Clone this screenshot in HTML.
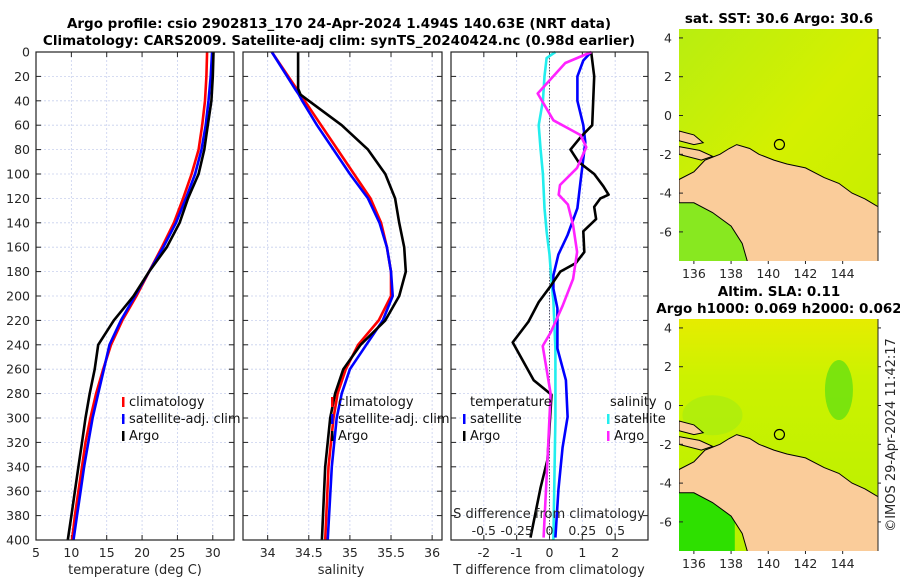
<!DOCTYPE html>
<html><head><meta charset="utf-8"><style>
html,body{margin:0;padding:0;background:#fff}
svg{display:block;font-family:"DejaVu Sans","Liberation Sans",sans-serif}
</style></head><body>
<svg id="c" width="900" height="580" viewBox="0 0 900 580"></svg>
<script>
const depths=[0,20,40,60,80,100,120,140,160,180,200,220,240,260,280,300,320,340,360,380,400];
const tempArgo=[30.1,30.0,29.8,29.3,28.8,28.0,26.5,25.3,23.5,21.0,18.8,16.0,13.8,13.3,12.6,12.0,11.5,11.0,10.5,10.0,9.5];
const tempClim=[29.2,29.1,28.9,28.5,28.0,27.0,25.8,24.5,22.8,21.0,19.2,17.2,15.6,14.5,13.5,12.7,12.0,11.5,11.0,10.5,10.1];
const tempSat=[29.9,29.7,29.4,29.0,28.4,27.5,26.2,24.8,23.0,21.0,19.0,17.0,15.4,14.6,13.8,13.0,12.4,11.8,11.3,10.8,10.3];
const salDepths=[0,30,35,40,60,80,100,120,140,160,180,200,220,240,260,280,300,340,400];
const salArgo=[34.37,34.37,34.4,34.5,34.9,35.22,35.43,35.55,35.6,35.66,35.68,35.6,35.43,35.13,34.92,34.82,34.76,34.7,34.66];
const salClim=[34.05,34.35,34.4,34.45,34.65,34.85,35.05,35.25,35.38,35.45,35.5,35.5,35.35,35.1,34.95,34.85,34.8,34.74,34.7];
const salSat=[34.05,34.33,34.38,34.42,34.6,34.8,35.0,35.22,35.36,35.45,35.5,35.52,35.4,35.2,35.0,34.9,34.84,34.78,34.73];
const dTArgoDepth=[0,20,40,60,70,80,90,100,110,117,120,127,137,147,164,173,180,192,205,221,238,269,281,334,357,398];
const dTArgo=[1.27,1.36,1.33,1.3,0.94,0.64,0.88,1.36,1.64,1.8,1.55,1.36,1.42,1.03,1.06,0.8,0.33,0.03,-0.33,-0.64,-1.12,-0.48,0.06,-0.06,-0.27,-0.58];
const dTSatDepth=[0,7,20,40,60,74,107,128,150,166,183,194,210,243,269,299,324,359,398];
const dTSat=[1.27,1.03,0.85,0.85,1.03,1.09,0.94,0.85,0.55,0.27,0.12,0.12,0.24,0.24,0.5,0.55,0.4,0.27,0.18];
const dSSatDepth=[0,5,20,40,60,80,100,128,147,166,188,204,243,300,400];
const dSSat=[0.045,-0.022,-0.038,-0.05,-0.082,-0.068,-0.05,-0.038,-0.022,0,0.015,0.03,0.045,0.045,0.03];
const dSArgoDepth=[0,9,34,56,68,78,95,109,117,125,142,164,186,208,230,241,269,280,334,398];
const dSArgo=[0.32,0.12,-0.09,0.03,0.235,0.28,0.21,0.08,0.07,0.14,0.18,0.21,0.18,0.1,0.008,-0.052,-0.008,0.008,-0.015,-0.045];
const depthTicks=[0,20,40,60,80,100,120,140,160,180,200,220,240,260,280,300,320,340,360,380,400];
const tTicks=[5,10,15,20,25,30];
const sTicks=[34,34.5,35,35.5,36];
const dTTicks=[-2,-1,0,1,2];
const dSTicks=[-0.5,-0.25,0,0.25,0.5];
const dSTickLabels=["-0.5","-0.25","0","0.25","0.5"];
const lonTicks=[136,138,140,142,144];
const latTicks=[4,2,0,-2,-4,-6];
const landMain=[[135.2,-3.3],[136,-2.9],[136.6,-2.3],[137.4,-2.0],[137.9,-1.7],[138.3,-1.5],[139,-1.7],[139.5,-2.0],[140.3,-2.3],[141,-2.5],[142,-2.7],[143,-3.2],[143.8,-3.5],[144.5,-4.0],[145.2,-4.3],[145.9,-4.7],[145.9,-7.6],[138.9,-7.6],[138.6,-6.6],[138.0,-5.7],[137,-5.0],[136,-4.5],[135.2,-4.5]];
const islandA=[[135.2,-0.8],[136,-1.0],[136.5,-1.4],[136,-1.5],[135.2,-1.3]];
const islandB=[[135.2,-1.6],[136.3,-1.8],[137,-2.1],[136.4,-2.3],[135.2,-2.0]];
const floatPos=[140.6,-1.494];

const S=document.getElementById('c');const NS='http://www.w3.org/2000/svg';
function mk(t,a,p){const e=document.createElementNS(NS,t);for(const k in a)e.setAttribute(k,a[k]);(p||S).appendChild(e);return e;}
function txt(x,y,s,a,p){const e=mk('text',Object.assign({x:x,y:y,'font-size':12.5,fill:'#262626'},a||{}),p);e.textContent=s;return e;}
function lin(d0,d1,r0,r1){return v=>r0+(v-d0)*(r1-r0)/(d1-d0);}
const Y=lin(0,400,52,540);
function panel(name,x0,x1,xd0,xd1){
  const X=lin(xd0,xd1,x0,x1);
  const g=mk('g',{});
  return {X,g,x0,x1};
}
function grid(P,xt){
  depthTicks.forEach(d=>{mk('line',{x1:P.x0,x2:P.x1,y1:Y(d),y2:Y(d),stroke:'#c8d0ee','stroke-width':0.8,'stroke-dasharray':'2,2'},P.g);
    mk('line',{x1:P.x0,x2:P.x0+5,y1:Y(d),y2:Y(d),stroke:'#222'},P.g);mk('line',{x1:P.x1-5,x2:P.x1,y1:Y(d),y2:Y(d),stroke:'#222'},P.g);});
  xt.forEach(v=>{mk('line',{x1:P.X(v),x2:P.X(v),y1:52,y2:540,stroke:'#c8d0ee','stroke-width':0.8,'stroke-dasharray':'2,2'},P.g);
    mk('line',{x1:P.X(v),x2:P.X(v),y1:540,y2:535,stroke:'#222'},P.g);mk('line',{x1:P.X(v),x2:P.X(v),y1:52,y2:57,stroke:'#222'},P.g);});
}
function frame(P){mk('rect',{x:P.x0,y:52,width:P.x1-P.x0,height:488,fill:'none',stroke:'#222','stroke-width':1.2},P.g);}
function line(P,xs,ds,col,name,w){const pts=xs.map((v,i)=>P.X(v).toFixed(1)+','+Y(ds[i]).toFixed(1)).join(' ');
  const e=mk('polyline',{points:pts,fill:'none',stroke:col,'stroke-width':w||2.6,'stroke-linejoin':'round'},P.g);
  }
function legItem(P,x,y,col,label,name){const g=mk('g',{},P.g);
  mk('rect',{x:x,y:y-9,width:2.5,height:10,fill:col},g);txt(x+7,y,label,{'font-size':13,fill:'#111'},g);}

txt(339,28,'Argo profile: csio 2902813_170 24-Apr-2024 1.494S 140.63E (NRT data)',{'text-anchor':'middle','font-weight':'bold','font-size':13.5,fill:'#000'});
txt(339,45,'Climatology: CARS2009. Satellite-adj clim: synTS_20240424.nc (0.98d earlier)',{'text-anchor':'middle','font-weight':'bold','font-size':13.5,fill:'#000'});

const P1=panel('temperature-panel',36,234,5,33);grid(P1,tTicks);
depthTicks.forEach(d=>txt(30,Y(d)+4.5,String(d),{'text-anchor':'end'},P1.g));
tTicks.forEach(v=>txt(P1.X(v),557,String(v),{'text-anchor':'middle'},P1.g));
txt(135,574,'temperature (deg C)',{'text-anchor':'middle','font-size':13},P1.g);
line(P1,tempClim,depths,'#ff0000','temp-climatology-line');line(P1,tempSat,depths,'#0000ff','temp-satellite-line');line(P1,tempArgo,depths,'#000','temp-argo-line');
frame(P1);
legItem(P1,122,406,'#ff0000','climatology','legend-climatology');legItem(P1,122,423,'#0000ff','satellite-adj. clim','legend-satellite');legItem(P1,122,440,'#000','Argo','legend-argo');

const P2=panel('salinity-panel',243,442,33.7,36.12);grid(P2,sTicks);
sTicks.forEach(v=>txt(P2.X(v),557,String(v),{'text-anchor':'middle'},P2.g));
txt(341,574,'salinity',{'text-anchor':'middle','font-size':13},P2.g);
line(P2,salClim,salDepths,'#ff0000','sal-climatology-line');line(P2,salSat,salDepths,'#0000ff','sal-satellite-line');line(P2,salArgo,salDepths,'#000','sal-argo-line');
frame(P2);
legItem(P2,331,406,'#ff0000','climatology','legend-climatology-2');legItem(P2,331,423,'#0000ff','satellite-adj. clim','legend-satellite-2');legItem(P2,331,440,'#000','Argo','legend-argo-2');

const P3=panel('difference-panel',451,648,-3,3);grid(P3,dTTicks);
mk('line',{x1:P3.X(0),x2:P3.X(0),y1:52,y2:540,stroke:'#556','stroke-width':1,'stroke-dasharray':'1.5,1.5'},P3.g);
dTTicks.forEach(v=>txt(P3.X(v),557,String(v),{'text-anchor':'middle'},P3.g));
txt(549,574,'T difference from climatology',{'text-anchor':'middle','font-size':13},P3.g);
const dSArgoT=dSArgo.map(v=>v*4),dSSatT=dSSat.map(v=>v*4);
line(P3,dSSatT,dSSatDepth,'#22eeee','s-diff-satellite-line');line(P3,dTSat,dTSatDepth,'#0000ff','t-diff-satellite-line');
line(P3,dTArgo,dTArgoDepth,'#000','t-diff-argo-line');line(P3,dSArgoT,dSArgoDepth,'#ff22ff','s-diff-argo-line');
frame(P3);
txt(549,518,'S difference from climatology',{'text-anchor':'middle','font-size':13},P3.g);
dSTicks.forEach((v,i)=>txt(P3.X(v*4),535,dSTickLabels[i],{'text-anchor':'middle'},P3.g));
txt(470,406,'temperature',{'font-size':13,fill:'#111'},P3.g);
legItem(P3,463,423,'#0000ff','satellite','legend-t-satellite');legItem(P3,463,440,'#000','Argo','legend-t-argo');
txt(610,406,'salinity',{'font-size':13,fill:'#111'},P3.g);
legItem(P3,607,423,'#22eeee','satellite','legend-s-satellite');legItem(P3,607,440,'#ff22ff','Argo','legend-s-argo');

function map(name,top,bottom,sla){
  const x0=679,x1=878;const LX=lin(135.2,145.9,x0,x1),LY=lin(4.46,-7.5,top,bottom);
  const g=mk('g',{});
  const cid='clip'+name;const cp=mk('clipPath',{id:cid},g);mk('rect',{x:x0,y:top,width:x1-x0,height:bottom-top},cp);
  const gg=mk('g',{'clip-path':'url(#'+cid+')'},g);
  if(!sla){
    const gr=mk('linearGradient',{id:'gs',x1:0,y1:0,x2:1,y2:1},g);
    mk('stop',{offset:0,'stop-color':'#b8ee10'},gr);mk('stop',{offset:0.5,'stop-color':'#d4f000'},gr);mk('stop',{offset:1,'stop-color':'#c4ee00'},gr);
    mk('rect',{x:x0,y:top,width:x1-x0,height:bottom-top,fill:'url(#gs)'},gg);
    mk('rect',{x:x0,y:LY(-4.5),width:LX(139)-x0,height:bottom-LY(-4.5),fill:'#88e820'},gg);
  }else{
    const gr=mk('linearGradient',{id:'gl',x1:0,y1:0,x2:0,y2:1},g);
    mk('stop',{offset:0,'stop-color':'#e6ec00'},gr);mk('stop',{offset:0.25,'stop-color':'#ccf200'},gr);mk('stop',{offset:1,'stop-color':'#b8f000'},gr);
    mk('rect',{x:x0,y:top,width:x1-x0,height:bottom-top,fill:'url(#gl)'},gg);
    mk('ellipse',{cx:LX(143.8),cy:LY(0.8),rx:14,ry:30,fill:'#66e010',opacity:0.8},gg);
    mk('ellipse',{cx:LX(137),cy:LY(-0.5),rx:30,ry:20,fill:'#a8ec10',opacity:0.7},gg);
    mk('rect',{x:x0,y:LY(-4.5),width:LX(138.2)-x0,height:bottom-LY(-4.5),fill:'#2ee000'},gg);
  }
  const poly=a=>a.map(p=>LX(p[0]).toFixed(1)+','+LY(p[1]).toFixed(1)).join(' ');
  [landMain,islandA,islandB].forEach(a=>mk('polygon',{points:poly(a),fill:'#facc9a',stroke:'#000','stroke-width':1},gg));
  mk('circle',{cx:LX(floatPos[0]),cy:LY(floatPos[1]),r:5,fill:'none',stroke:'#000','stroke-width':1.2},g);
  latTicks.forEach(v=>{txt(672,LY(v)+4.5,String(v),{'text-anchor':'end'},g);mk('line',{x1:x0,x2:x0+4,y1:LY(v),y2:LY(v),stroke:'#222'},g);mk('line',{x1:x1,x2:x1+3,y1:LY(v),y2:LY(v),stroke:'#222'},g);});
  lonTicks.forEach(v=>{txt(LX(v),bottom+17,String(v),{'text-anchor':'middle'},g);mk('line',{x1:LX(v),x2:LX(v),y1:bottom,y2:bottom+3,stroke:'#222'},g);});
  mk('line',{x1:x1,x2:x1,y1:top,y2:bottom,stroke:'#222'},g);
}
txt(779,23,'sat. SST: 30.6 Argo: 30.6',{'text-anchor':'middle','font-weight':'bold','font-size':13.5,fill:'#000'});
map('sst-map',29,261,false);
txt(779,296,'Altim. SLA: 0.11',{'text-anchor':'middle','font-weight':'bold','font-size':13.5,fill:'#000'});
txt(779,313,'Argo h1000: 0.069 h2000: 0.062',{'text-anchor':'middle','font-weight':'bold','font-size':13.5,fill:'#000'});
map('sla-map',319,551,true);
const cr=txt(0,0,'©IMOS 29-Apr-2024 11:42:17',{'text-anchor':'middle','font-size':13,transform:'translate(895,435) rotate(-90)'});

</script>
</body></html>
